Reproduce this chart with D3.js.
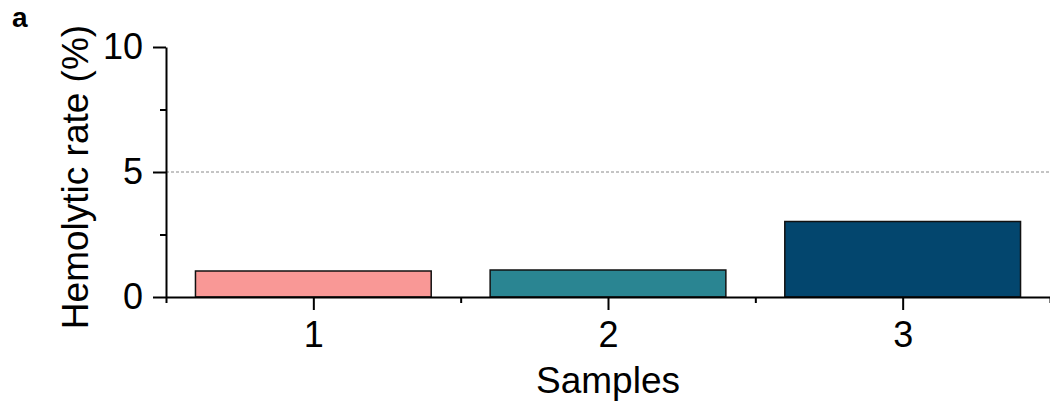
<!DOCTYPE html>
<html>
<head>
<meta charset="utf-8">
<script src="https://cdn.jsdelivr.net/npm/d3@7"></script>
<style>
  body { margin: 0; background: #fff; }
  svg { display: block; font-family: "Liberation Sans", Arial, sans-serif; }
</style>
</head>
<body>
<div id="chart"></div>
<script>
const samples = ["1", "2", "3"];
const hemolyticRate = [1.04, 1.08, 3.02];
const barColors = ["#F99896", "#2A8592", "#03466E"];
const yTicks = [0, 5, 10];
const yMinorTicks = [2.5, 7.5];
const threshold = 5;

const width = 1050, height = 407;
const margin = { top: 47, right: 0, bottom: 110, left: 166 };
const innerWidth = width - margin.left - margin.right;
const innerHeight = height - margin.top - margin.bottom;

const svg = d3.select("#chart").append("svg")
  .attr("width", width)
  .attr("height", height);

const innerChart = svg.append("g")
  .attr("transform", `translate(${margin.left}, ${margin.top})`);

// linear x so the minor ticks can sit between samples
const xScale = d3.scaleLinear()
  .domain([0.5, samples.length + 0.5])
  .range([0, innerWidth]);
const step = xScale(2) - xScale(1);
const barWidth = step * 0.8;

const yScale = d3.scaleLinear()
  .domain([0, 10])
  .range([innerHeight, 0]);

// threshold line
innerChart.append("line")
  .attr("x1", 0)
  .attr("x2", innerWidth)
  .attr("y1", yScale(threshold))
  .attr("y2", yScale(threshold))
  .attr("stroke", "#8a8a8a")
  .attr("stroke-width", 1)
  .attr("stroke-dasharray", "3,2");

// bars
innerChart.selectAll(".bar")
  .data(hemolyticRate)
  .join("rect")
    .attr("class", "bar")
    .attr("x", (d, i) => xScale(i + 1) - barWidth / 2)
    .attr("y", d => yScale(d))
    .attr("width", barWidth)
    .attr("height", d => yScale(0) - yScale(d))
    .attr("fill", (d, i) => barColors[i])
    .attr("stroke", "#111")
    .attr("stroke-width", 1.5);

// x axis
innerChart.append("g")
  .attr("transform", `translate(0, ${innerHeight})`)
  .call(d3.axisBottom(xScale)
    .tickValues(samples.map((s, i) => i + 1))
    .tickFormat((d, i) => samples[i])
    .tickSize(13)
    .tickPadding(11)
    .tickSizeOuter(0));
innerChart.append("g")
  .attr("transform", `translate(0, ${innerHeight})`)
  .call(d3.axisBottom(xScale)
    .tickValues(d3.range(0, samples.length + 1).map(v => v + 0.5))
    .tickFormat("")
    .tickSize(6)
    .tickSizeOuter(0))
  .call(g => g.select(".domain").remove());

// y axis
innerChart.append("g")
  .call(d3.axisLeft(yScale)
    .tickValues(yTicks)
    .tickSize(13)
    .tickPadding(10)
    .tickSizeOuter(0));
innerChart.append("g")
  .call(d3.axisLeft(yScale)
    .tickValues(yMinorTicks)
    .tickFormat("")
    .tickSize(6)
    .tickSizeOuter(0))
  .call(g => g.select(".domain").remove());

innerChart.selectAll(".domain, .tick line")
  .attr("stroke", "#000")
  .attr("stroke-width", 2);
innerChart.selectAll(".tick text")
  .attr("font-size", 36)
  .attr("fill", "#000");

// axis titles
svg.append("text")
  .attr("x", margin.left + xScale(2))
  .attr("y", 393)
  .attr("text-anchor", "middle")
  .attr("font-size", 37)
  .text("Samples");

svg.append("text")
  .attr("transform", `translate(88, ${margin.top + innerHeight / 2 + 5}) rotate(-90)`)
  .attr("text-anchor", "middle")
  .attr("font-size", 37)
  .text("Hemolytic rate (%)");

// panel letter
svg.append("text")
  .attr("x", 12)
  .attr("y", 27)
  .attr("font-size", 28)
  .attr("font-weight", "bold")
  .text("a");
</script>
</body>
</html>
